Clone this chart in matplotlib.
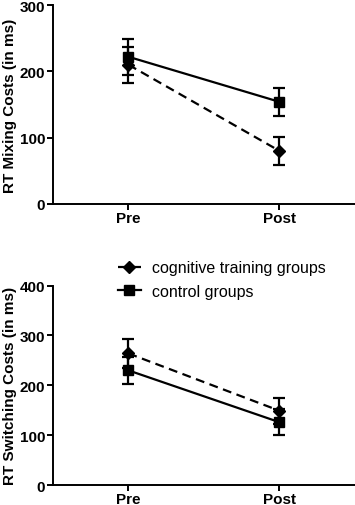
import matplotlib.pyplot as plt
from matplotlib.lines import Line2D
import numpy as np

plt.rcParams['font.family'] = ['Liberation Sans', 'DejaVu Sans']

phases = ['Pre', 'Post']

# mixing costs (top panel)
mix_cog = [210, 80]
mix_cog_err = [27, 21]
mix_ctrl = [222, 154]
mix_ctrl_err = [27, 21]

# switching costs (bottom panel)
sw_cog = [264, 149]
sw_cog_err = [29, 26]
sw_ctrl = [230, 126]
sw_ctrl_err = [27, 26]

DASH = (4, 2.5)


def draw_panel(ax, cog, cog_err, ctrl, ctrl_err, ymax, ylabel):
    x = np.arange(len(phases))
    ax.errorbar(x, cog, yerr=cog_err, color='black', lw=1.6, marker='D', ms=6,
                dashes=DASH, capsize=4.5, capthick=1.6, elinewidth=1.6)
    ax.errorbar(x, ctrl, yerr=ctrl_err, color='black', lw=1.6, marker='s', ms=6.5,
                capsize=4.5, capthick=1.6, elinewidth=1.6)
    ax.set_xlim(-0.5, 1.5)
    ax.set_ylim(0, ymax)
    ax.set_yticks(np.arange(0, ymax + 1, 100))
    ax.set_xticks(x)
    ax.set_xticklabels(phases)
    ax.set_ylabel(ylabel, fontsize=11, fontweight='bold', labelpad=2)
    for lab in ax.get_xticklabels() + ax.get_yticklabels():
        lab.set_fontweight('bold')
        lab.set_fontsize(11)
    ax.spines['top'].set_visible(False)
    ax.spines['right'].set_visible(False)
    ax.spines['left'].set_linewidth(1.4)
    ax.spines['bottom'].set_linewidth(1.4)
    ax.tick_params(width=1.4, length=4, pad=1.5)
    ax.tick_params(axis='x', pad=1)


fig = plt.figure(figsize=(3.55, 5.06), dpi=100)
ax1 = fig.add_axes([0.149, 0.595, 0.851, 0.393])
ax2 = fig.add_axes([0.149, 0.0395, 0.851, 0.394])

draw_panel(ax1, mix_cog, mix_cog_err, mix_ctrl, mix_ctrl_err, 300, 'RT Mixing Costs (in ms)')
draw_panel(ax2, sw_cog, sw_cog_err, sw_ctrl, sw_ctrl_err, 400, 'RT Switching Costs (in ms)')

handles = [
    Line2D([], [], color='black', lw=1.6, marker='D', ms=6, dashes=DASH),
    Line2D([], [], color='black', lw=1.6, marker='s', ms=6.5),
]
labels = ['cognitive training groups', 'control groups']
fig.legend(handles, labels, loc='upper left', bbox_to_anchor=(0.30, 0.506),
           frameon=False, fontsize=11.5, handlelength=1.45, handletextpad=0.7,
           labelspacing=0.55, borderpad=0.2)

fig.savefig('out.png', dpi=100)
